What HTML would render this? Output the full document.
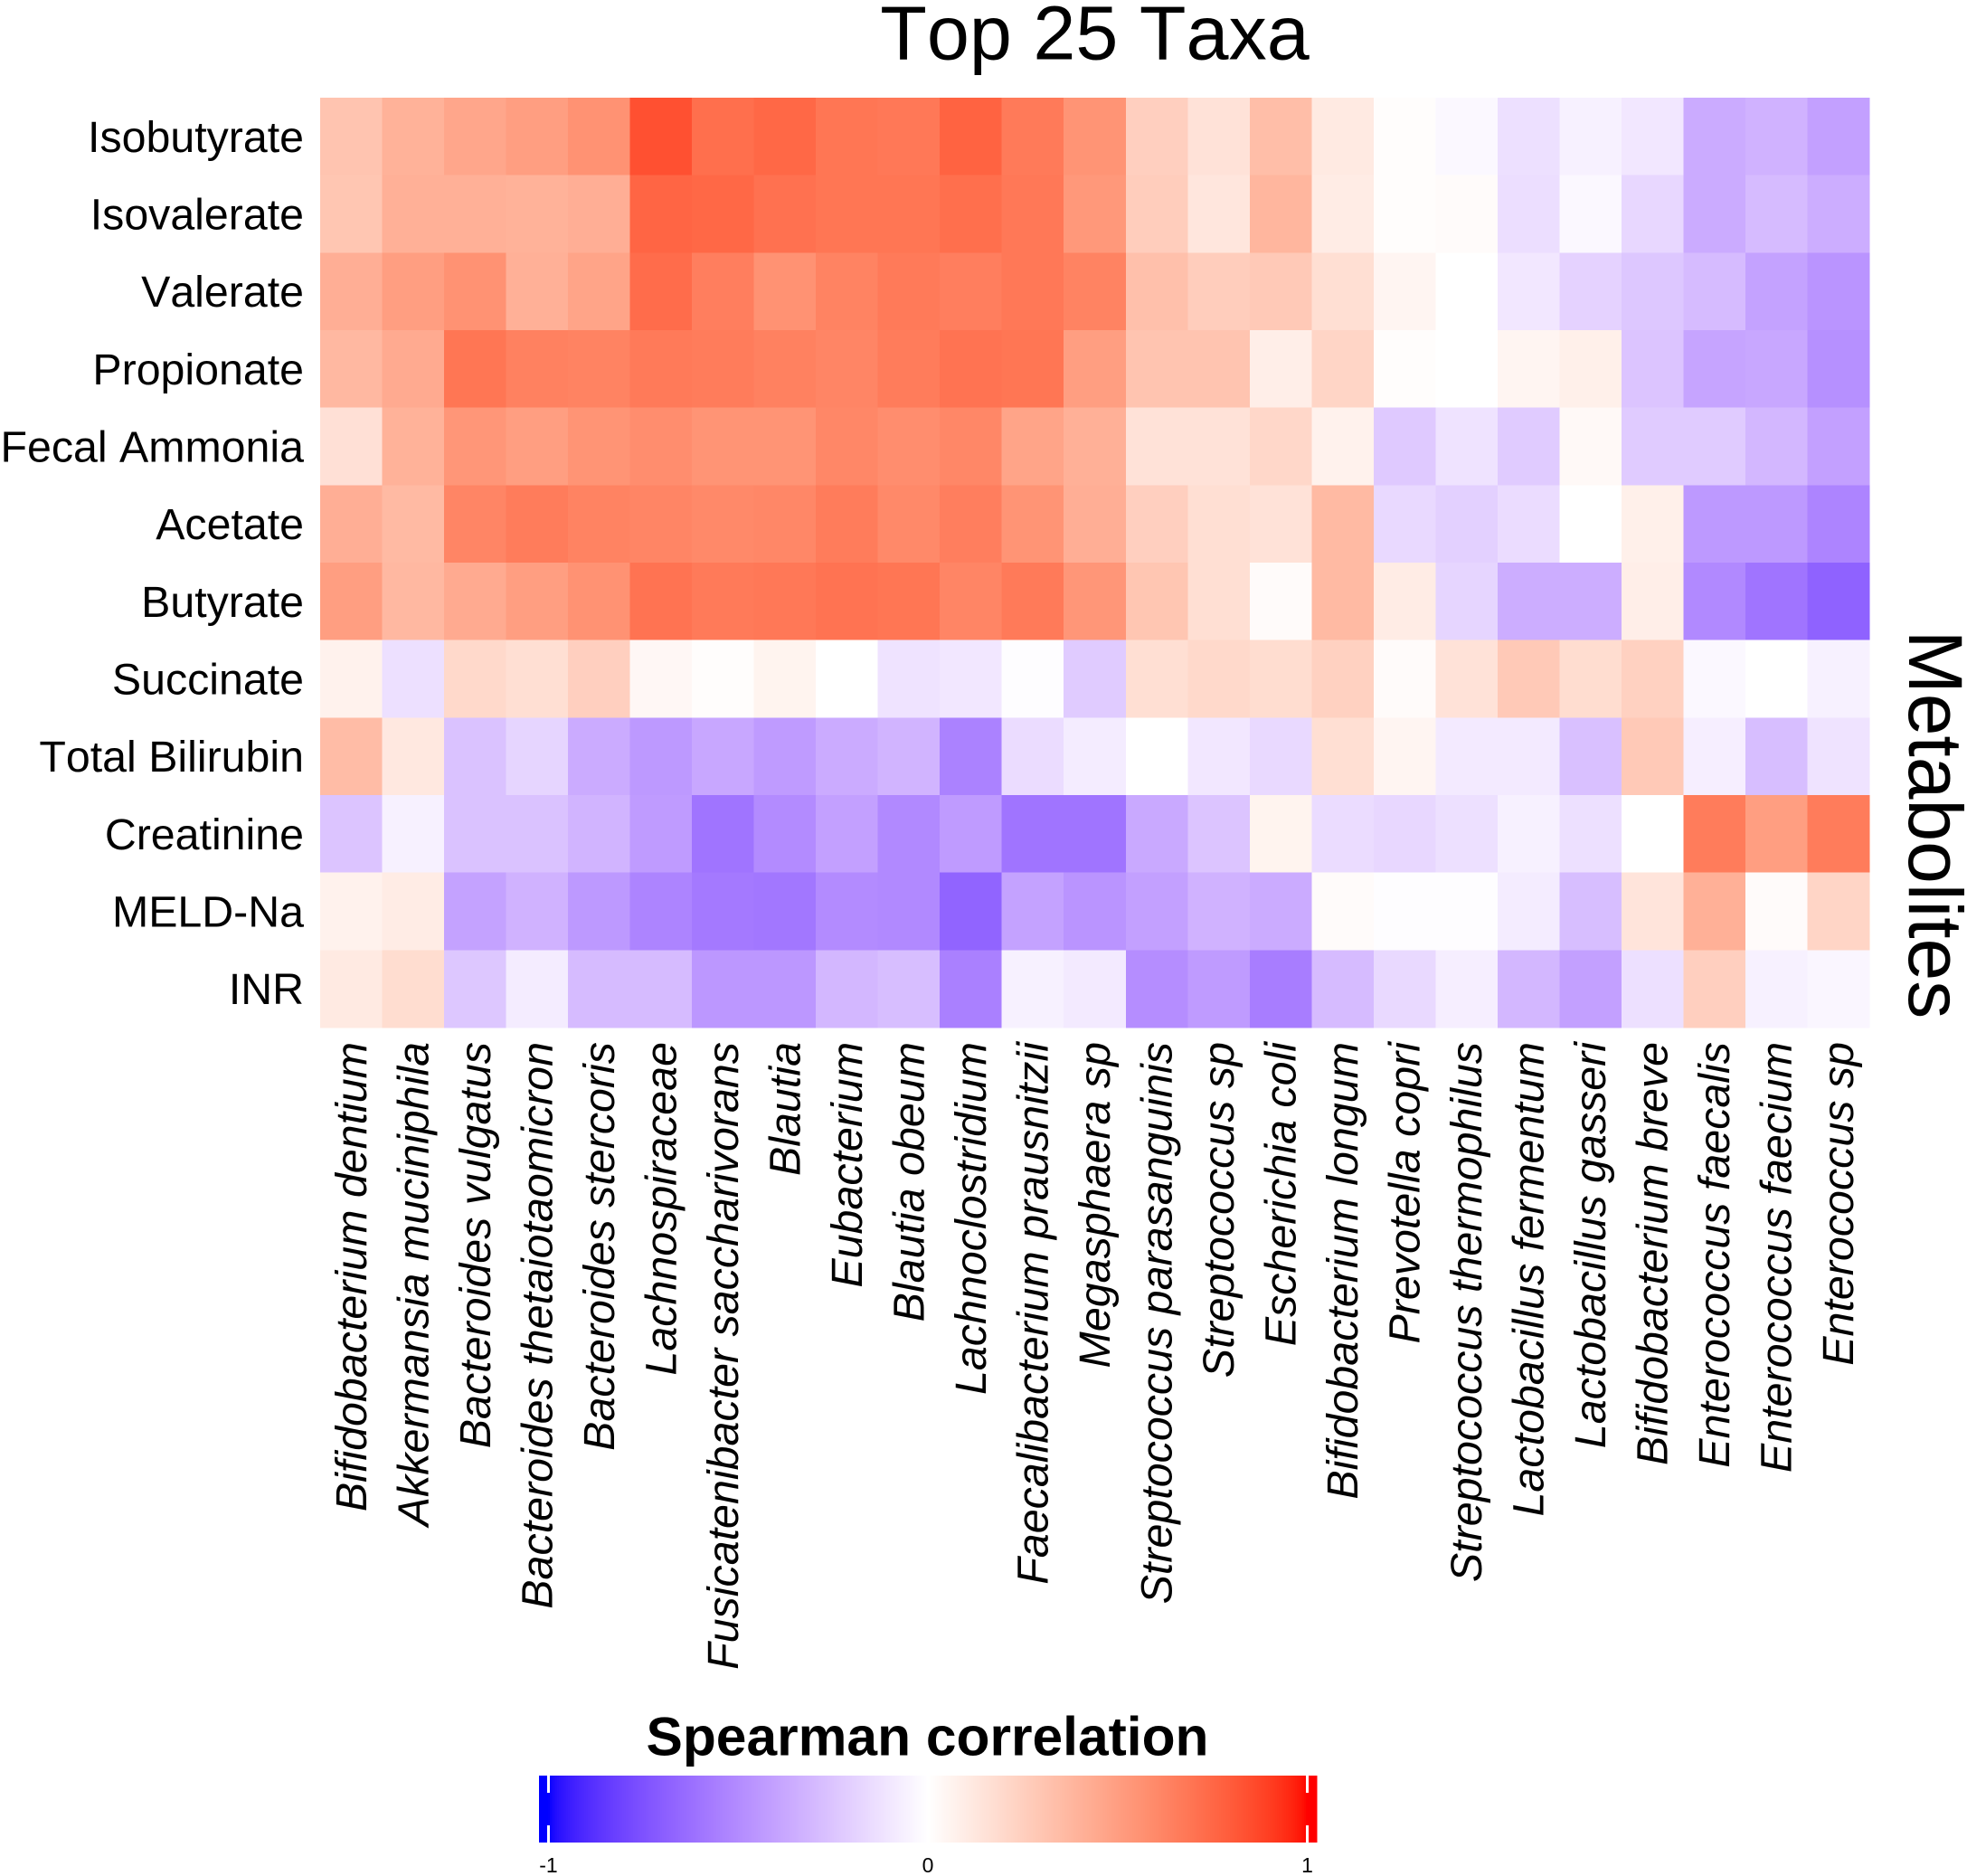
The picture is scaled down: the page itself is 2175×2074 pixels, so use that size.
<!DOCTYPE html>
<html lang="en">
<head>
<meta charset="utf-8">
<title>Top 25 Taxa</title>
<style>
html,body{margin:0;padding:0;background:#fff;}
svg{display:block;}
text{font-family:"Liberation Sans",Arial,sans-serif;fill:#000;font-kerning:none;}
</style>
</head>
<body>
<svg id="chart" xmlns="http://www.w3.org/2000/svg" width="2175" height="2074" viewBox="0 0 2175 2074">
  <rect x="0" y="0" width="2175" height="2074" fill="#ffffff"/>
  <text x="1210.5" y="65.5" font-size="84.5" text-anchor="middle">Top 25 Taxa</text>
  <g id="cells"></g>
  <g id="yLabels"></g>
  <g id="xLabels"></g>
  <text transform="translate(2111 911.5) rotate(90)" font-size="84" text-anchor="middle">Metabolites</text>
  <text x="1025.5" y="1940.5" font-size="60.5" font-weight="700" text-anchor="middle">Spearman correlation</text>
  <g id="legendBar"></g>
  <g id="legendTicks"></g>
</svg>
<script>
const metabolites = ["Isobutyrate","Isovalerate","Valerate","Propionate","Fecal Ammonia","Acetate","Butyrate","Succinate","Total Bilirubin","Creatinine","MELD-Na","INR"];
const taxa = ["Bifidobacterium dentium","Akkermansia muciniphila","Bacteroides vulgatus","Bacteroides thetaiotaomicron","Bacteroides stercoris","Lachnospiraceae","Fusicatenibacter saccharivorans","Blautia","Eubacterium","Blautia obeum","Lachnoclostridium","Faecalibacterium prausnitzii","Megasphaera sp","Streptococcus parasanguinis","Streptococcus sp","Escherichia coli","Bifidobacterium longum","Prevotella copri","Streptococcus thermophilus","Lactobacillus fermentum","Lactobacillus gasseri","Bifidobacterium breve","Enterococcus faecalis","Enterococcus faecium","Enterococcus sp"];
const correlations = [
  [.31,.40,.46,.50,.56,.84,.72,.75,.69,.68,.77,.67,.55,.25,.15,.34,.11,.01,-.03,-.13,-.06,-.10,-.36,-.33,-.41],
  [.30,.41,.41,.40,.42,.76,.75,.71,.69,.69,.72,.68,.53,.26,.13,.38,.10,.01,.02,-.14,-.03,-.17,-.36,-.29,-.35],
  [.42,.50,.56,.41,.47,.73,.65,.56,.63,.67,.65,.68,.63,.33,.26,.28,.17,.05,0,-.10,-.19,-.24,-.29,-.40,-.46],
  [.37,.44,.69,.64,.63,.67,.66,.64,.62,.66,.70,.69,.50,.31,.31,.09,.22,.01,0,.05,.08,-.25,-.39,-.38,-.48],
  [.16,.40,.54,.50,.55,.58,.55,.55,.61,.58,.61,.47,.41,.15,.15,.21,.07,-.23,-.12,-.22,.03,-.22,-.22,-.31,-.41],
  [.42,.36,.62,.66,.63,.62,.60,.61,.66,.60,.65,.55,.42,.25,.17,.15,.36,-.16,-.20,-.15,0,.08,-.44,-.44,-.53],
  [.50,.37,.44,.50,.56,.70,.67,.68,.70,.69,.62,.67,.54,.30,.17,.02,.36,.10,-.18,-.35,-.35,.09,-.51,-.60,-.68],
  [.07,-.13,.20,.17,.25,.04,.01,.06,0,-.12,-.10,-.01,-.22,.17,.20,.18,.24,.02,.15,.28,.18,.24,-.03,0,-.06],
  [.35,.12,-.26,-.18,-.36,-.44,-.38,-.43,-.36,-.32,-.54,-.15,-.08,0,-.10,-.16,.17,.05,-.09,-.09,-.27,.28,-.07,-.28,-.12],
  [-.25,-.06,-.26,-.26,-.32,-.43,-.60,-.50,-.41,-.51,-.43,-.60,-.60,-.37,-.25,.06,-.15,-.17,-.13,-.06,-.13,0,.66,.50,.66],
  [.07,.10,-.40,-.33,-.44,-.53,-.58,-.59,-.50,-.51,-.67,-.40,-.46,-.41,-.33,-.36,.02,-.01,-.01,-.08,-.28,.14,.41,.02,.22],
  [.11,.18,-.24,-.08,-.29,-.29,-.45,-.45,-.31,-.28,-.55,-.06,-.09,-.49,-.43,-.56,-.29,-.16,-.07,-.31,-.41,-.13,.25,-.06,-.04]
];
const legendTickValues = [-1,0,1];
const legendTickLabels = ["-1","0","1"];

const SVG_NS = "http://www.w3.org/2000/svg";
const plotLeft = 354, plotRight = 2067, plotTop = 108, plotBottom = 1136;
const cellW = (plotRight - plotLeft) / taxa.length;
const cellH = (plotBottom - plotTop) / metabolites.length;
const xScale = i => plotLeft + i * cellW;
const yScale = i => plotTop + i * cellH;
const legendX = v => 1026 + v * 419.5;

function srgbToLin(c){c/=255;return c<=0.04045?c/12.92:Math.pow((c+0.055)/1.055,2.4);}
function linToSrgb(c){c=Math.max(0,Math.min(1,c));return Math.round(255*(c<=0.0031308?12.92*c:1.055*Math.pow(c,1/2.4)-0.055));}
function rgbToLab(rgb){
  const r=srgbToLin(rgb[0]),g=srgbToLin(rgb[1]),b=srgbToLin(rgb[2]);
  const f=t=>t>0.008856?Math.cbrt(t):7.787*t+16/116;
  const x=f((0.4124564*r+0.3575761*g+0.1804375*b)/0.95047);
  const y=f(0.2126729*r+0.7151522*g+0.0721750*b);
  const z=f((0.0193339*r+0.1191920*g+0.9503041*b)/1.08883);
  return [116*y-16,500*(x-y),200*(y-z)];
}
function labToCss(lab){
  const fy=(lab[0]+16)/116,fx=fy+lab[1]/500,fz=fy-lab[2]/200;
  const g=t=>t*t*t>0.008856?t*t*t:(t-16/116)/7.787;
  const x=g(fx)*0.95047,y=g(fy),z=g(fz)*1.08883;
  const r= 3.2404542*x-1.5371385*y-0.4985314*z;
  const gg=-0.9692660*x+1.8760108*y+0.0415560*z;
  const b= 0.0556434*x-0.2040259*y+1.0572252*z;
  return "rgb("+linToSrgb(r)+","+linToSrgb(gg)+","+linToSrgb(b)+")";
}
const labLow = rgbToLab([0,0,255]), labMid = rgbToLab([255,255,255]), labHigh = rgbToLab([255,0,0]);
function colorScale(v){
  v = Math.max(-1,Math.min(1,v));
  const end = v<0 ? labLow : labHigh, t = Math.abs(v);
  return labToCss([0,1,2].map(k => labMid[k]+(end[k]-labMid[k])*t));
}

const cellsGroup = document.getElementById("cells");
correlations.forEach((row,r) => {
  row.forEach((value,c) => {
    const cell = document.createElementNS(SVG_NS,"rect");
    
    
    cell.setAttribute("x",xScale(c));
    cell.setAttribute("y",yScale(r));
    cell.setAttribute("width",cellW+0.4);
    cell.setAttribute("height",cellH+0.4);
    cell.setAttribute("fill",colorScale(value));
    cell.setAttribute("shape-rendering","crispEdges");
    cellsGroup.appendChild(cell);
  });
});

const yGroup = document.getElementById("yLabels");
metabolites.forEach((name,r) => {
  const label = document.createElementNS(SVG_NS,"text");
  
  
  label.setAttribute("x",336);
  label.setAttribute("y",yScale(r)+cellH/2+17);
  label.setAttribute("font-size",48.3);
  label.setAttribute("text-anchor","end");
  label.textContent = name;
  yGroup.appendChild(label);
});

const xGroup = document.getElementById("xLabels");
taxa.forEach((name,c) => {
  const label = document.createElementNS(SVG_NS,"text");
  
  
  const bx = xScale(c)+cellW/2+16.5, by = 1152;
  label.setAttribute("transform","translate("+bx+" "+by+") rotate(-90)");
  label.setAttribute("font-size",48.4);
  label.setAttribute("font-style","italic");
  label.setAttribute("text-anchor","end");
  label.textContent = name;
  xGroup.appendChild(label);
});

const barGroup = document.getElementById("legendBar");
const barStep = 2;
for (let px = 596; px < 1456; px += barStep) {
  const seg = document.createElementNS(SVG_NS,"rect");
  
  
  seg.setAttribute("x",px);
  seg.setAttribute("y",1963);
  seg.setAttribute("width",barStep+0.3);
  seg.setAttribute("height",74);
  seg.setAttribute("fill",colorScale((px+barStep/2-1026)/419.5));
  seg.setAttribute("shape-rendering","crispEdges");
  barGroup.appendChild(seg);
}

const tickGroup = document.getElementById("legendTicks");
legendTickValues.forEach((v,i) => {
  [[1963,1982],[2018,2037]].forEach(span => {
    const tick = document.createElementNS(SVG_NS,"rect");
    
    
    tick.setAttribute("x",legendX(v)-1.5);
    tick.setAttribute("y",span[0]);
    tick.setAttribute("width",3);
    tick.setAttribute("height",span[1]-span[0]);
    tick.setAttribute("fill","#ffffff");
    tickGroup.appendChild(tick);
  });
  const label = document.createElementNS(SVG_NS,"text");
  
  
  label.setAttribute("x",legendX(v));
  label.setAttribute("y",2070);
  label.setAttribute("font-size",23);
  label.setAttribute("text-anchor","middle");
  label.textContent = legendTickLabels[i];
  tickGroup.appendChild(label);
});
</script>
</body>
</html>
